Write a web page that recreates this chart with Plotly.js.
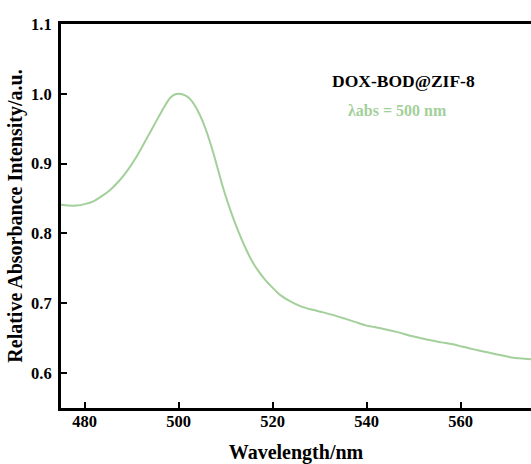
<!DOCTYPE html>
<html>
<head>
<meta charset="utf-8">
<script src="https://cdn.plot.ly/plotly-3.0.1.min.js"></script>
<style>html,body{margin:0;padding:0;background:#fff;}#chart{width:531px;height:464px;}</style>
</head>
<body>
<div id="chart"></div>
<script>
const wavelength = [475.0, 476.5, 478.3, 480.0, 481.9, 483.6, 485.4, 487.2, 489.0, 490.8, 492.5, 494.3, 496.1, 497.2, 498.2, 499.2, 500.2, 501.3, 502.4, 503.5, 504.6, 505.7, 506.7, 507.6, 508.5, 509.5, 510.6, 511.7, 512.8, 513.8, 515.2, 516.6, 518.4, 520.2, 521.6, 523.7, 525.9, 528.3, 530.8, 533.0, 535.4, 537.7, 540.0, 543.2, 546.4, 549.6, 552.8, 556.0, 559.2, 561.6, 564.1, 566.2, 568.4, 571.2, 573.0, 575.0];
const absorbance = [0.841, 0.840, 0.840, 0.842, 0.846, 0.853, 0.862, 0.874, 0.889, 0.907, 0.927, 0.949, 0.971, 0.984, 0.994, 0.999, 1.000, 0.998, 0.993, 0.983, 0.969, 0.951, 0.931, 0.911, 0.889, 0.865, 0.842, 0.821, 0.802, 0.786, 0.766, 0.750, 0.734, 0.721, 0.712, 0.703, 0.696, 0.691, 0.687, 0.683, 0.678, 0.673, 0.668, 0.664, 0.659, 0.653, 0.648, 0.644, 0.640, 0.636, 0.632, 0.629, 0.626, 0.622, 0.621, 0.620];
const sampleName = "DOX-BOD@ZIF-8";
const peakLabel = "λabs = 500 nm";
const xTickValues = [480, 500, 520, 540, 560];
const yTickValues = [0.6, 0.7, 0.8, 0.9, 1.0, 1.1];

const serif = "Liberation Serif, Times New Roman, serif";
const lineColor = "#a3d09a";

const trace = {
  x: wavelength, y: absorbance, type: "scatter", mode: "lines",
  line: {color: lineColor, width: 2, shape: "spline", smoothing: 0.6},
  hoverinfo: "skip"
};

const layout = {
  width: 531, height: 464,
  margin: {l: 61, r: 0, t: 24, b: 56},
  paper_bgcolor: "#fff", plot_bgcolor: "#fff",
  showlegend: false,
  font: {family: serif, color: "#000"},
  xaxis: {
    range: [475, 575],
    tickvals: xTickValues,
    ticks: "inside", ticklen: 6, tickwidth: 2, tickcolor: "#000",
    showline: true, linewidth: 3, linecolor: "#000", mirror: true,
    showgrid: false, zeroline: false,
    tickfont: {family: serif, size: 16.5, color: "#000", weight: "bold"},
    ticklabelstandoff: -4,
    title: {text: "Wavelength/nm", font: {family: serif, size: 20, color: "#000", weight: "bold"}, standoff: 18}
  },
  yaxis: {
    range: [0.55, 1.1],
    tickvals: yTickValues,
    tickformat: ".1f",
    ticks: "inside", ticklen: 6, tickwidth: 2, tickcolor: "#000",
    showline: true, linewidth: 3, linecolor: "#000", mirror: false,
    showgrid: false, zeroline: false,
    tickfont: {family: serif, size: 16.5, color: "#000", weight: "bold"},
    ticklabelstandoff: 3,
    title: {text: "Relative Absorbance Intensity/a.u.", font: {family: serif, size: 20, color: "#000", weight: "bold"}, standoff: 4}
  },
  annotations: [
    {xref: "paper", yref: "paper", x: 0.728, y: 0.852, text: sampleName, showarrow: false,
     xanchor: "center", yanchor: "middle",
     font: {family: serif, size: 17.5, color: "#000", weight: "bold"}},
    {xref: "paper", yref: "paper", x: 0.717, y: 0.775, text: peakLabel, showarrow: false,
     xanchor: "center", yanchor: "middle",
     font: {family: serif, size: 16, color: lineColor, weight: "bold"}}
  ]
};

Plotly.newPlot("chart", [trace], layout, {staticPlot: true, displayModeBar: false});
</script>
</body>
</html>
